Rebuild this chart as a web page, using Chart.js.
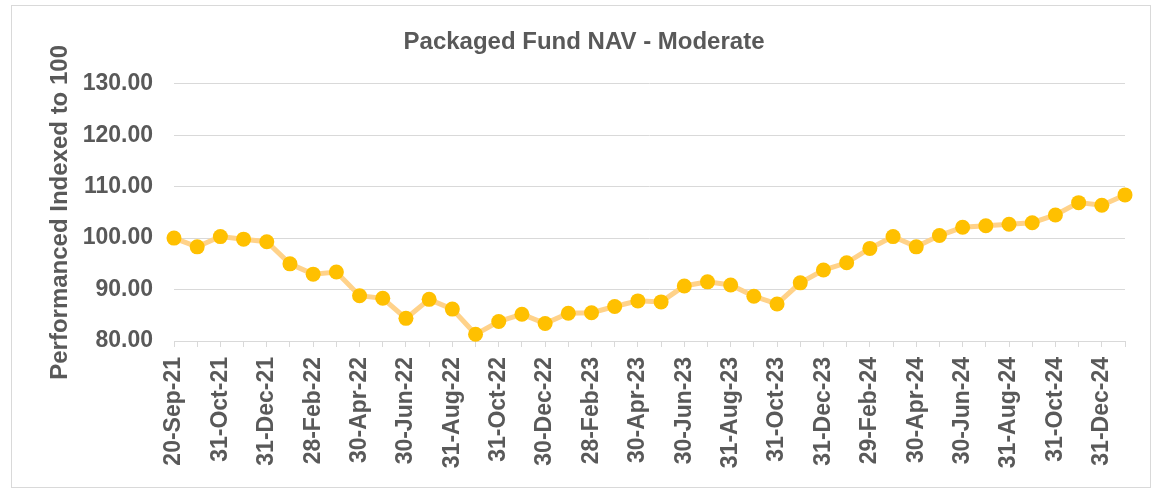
<!DOCTYPE html>
<html>
<head>
<meta charset="utf-8">
<title>Packaged Fund NAV - Moderate</title>
<script src="https://cdn.jsdelivr.net/npm/chart.js@4.4.1/dist/chart.umd.min.js"></script>
<style>
    html, body { margin: 0; padding: 0; background: #fff; }
    #wrap { position: relative; width: 1152px; height: 491px; overflow: hidden; }
    #frame { position: absolute; left: 11px; top: 5px; width: 1140px; height: 483px; border: 1px solid #D9D9D9; box-sizing: border-box; pointer-events: none; }
    #navChart { position: absolute; left: 0; top: 0; }
</style>
</head>
<body>
<div id="wrap">
    <div id="frame"></div>
    <canvas id="navChart" width="1152" height="491"></canvas>
</div>
<script>
// Valuation dates (one point per month-end, first point is the launch date)
const navDates = [
    '20-Sep-21', '30-Sep-21', '31-Oct-21', '30-Nov-21', '31-Dec-21',
    '31-Jan-22', '28-Feb-22', '31-Mar-22', '30-Apr-22', '31-May-22', '30-Jun-22',
    '31-Jul-22', '31-Aug-22', '30-Sep-22', '31-Oct-22', '30-Nov-22', '30-Dec-22',
    '31-Jan-23', '28-Feb-23', '31-Mar-23', '30-Apr-23', '31-May-23', '30-Jun-23',
    '31-Jul-23', '31-Aug-23', '30-Sep-23', '31-Oct-23', '30-Nov-23', '31-Dec-23',
    '31-Jan-24', '29-Feb-24', '31-Mar-24', '30-Apr-24', '31-May-24', '30-Jun-24',
    '31-Jul-24', '31-Aug-24', '30-Sep-24', '31-Oct-24', '30-Nov-24', '31-Dec-24',
    '31-Jan-25'
];

// NAV indexed to 100
const navValues = [
    100.0, 98.3, 100.3, 99.8, 99.3,
    95.0, 93.0, 93.4, 88.8, 88.3, 84.4,
    88.1, 86.2, 81.3, 83.8, 85.2, 83.4,
    85.4, 85.5, 86.7, 87.8, 87.6, 90.7,
    91.5, 90.9, 88.7, 87.2, 91.3, 93.8,
    95.2, 98.0, 100.3, 98.3, 100.5, 102.1,
    102.4, 102.7, 103.0, 104.5, 106.9, 106.4,
    108.4
];

// Value axis ticks
const yTickValues = [80, 90, 100, 110, 120, 130];

const TEXT = '#595959';
const GRID = '#D9D9D9';
const FONT = "'Liberation Sans', Arial, sans-serif";

const NavChart = {
    chart: null,

    init: function () {
        const ctx = document.getElementById('navChart').getContext('2d');

        this.chart = new Chart(ctx, {
            type: 'line',
            data: {
                labels: navDates,
                datasets: [{
                    label: 'Packaged Fund NAV - Moderate',
                    data: navValues,
                    borderColor: '#FFD28A',
                    borderWidth: 5,
                    tension: 0,
                    fill: false,
                    pointBackgroundColor: '#FFC000',
                    pointBorderColor: '#FFC000',
                    pointBorderWidth: 0,
                    pointRadius: 7.5,
                    clip: false
                }]
            },
            options: {
                responsive: false,
                animation: false,
                // left padding pushes the title centre right, like the original
                layout: { padding: { left: 43, right: 27, top: 0, bottom: 0 } },
                plugins: {
                    legend: { display: false },
                    tooltip: { enabled: false },
                    title: {
                        display: true,
                        text: 'Packaged Fund NAV - Moderate',
                        color: TEXT,
                        font: { family: FONT, size: 24, weight: 'bold' },
                        padding: { top: 28, bottom: 27 }
                    }
                },
                scales: {
                    x: {
                        offset: false,
                        afterFit: (scale) => {
                            scale.height = 150;
                            // rotated labels would otherwise reserve extra room on the sides
                            scale.paddingLeft = 0;
                            scale.paddingRight = 0;
                        },
                        grid: { drawOnChartArea: false, drawTicks: true, tickLength: 6, color: GRID },
                        border: { display: true, color: GRID, width: 1 },
                        ticks: {
                            autoSkip: false,
                            minRotation: 90,
                            maxRotation: 90,
                            padding: 10,
                            color: TEXT,
                            font: { family: FONT, size: 23, weight: 'bold' },
                            // Only every second date is labelled
                            callback: function (value, index) {
                                return index % 2 === 0 ? this.getLabelForValue(value) : '';
                            }
                        }
                    },
                    y: {
                        min: yTickValues[0],
                        max: yTickValues[yTickValues.length - 1],
                        afterFit: (scale) => { scale.width = 131; },
                        afterBuildTicks: (scale) => {
                            scale.ticks = yTickValues.map(v => ({ value: v }));
                        },
                        grid: { color: GRID, lineWidth: 1, drawTicks: false },
                        border: { display: false },
                        ticks: {
                            padding: 21,
                            color: TEXT,
                            font: { family: FONT, size: 23, weight: 'bold' },
                            callback: (v) => Number(v).toFixed(2)
                        },
                        title: {
                            display: true,
                            text: 'Performanced Indexed to 100',
                            color: TEXT,
                            font: { family: FONT, size: 24, weight: 'bold' },
                            padding: { top: 3, bottom: 0 }
                        }
                    }
                }
            }
        });
    }
};

NavChart.init();
</script>
</body>
</html>
